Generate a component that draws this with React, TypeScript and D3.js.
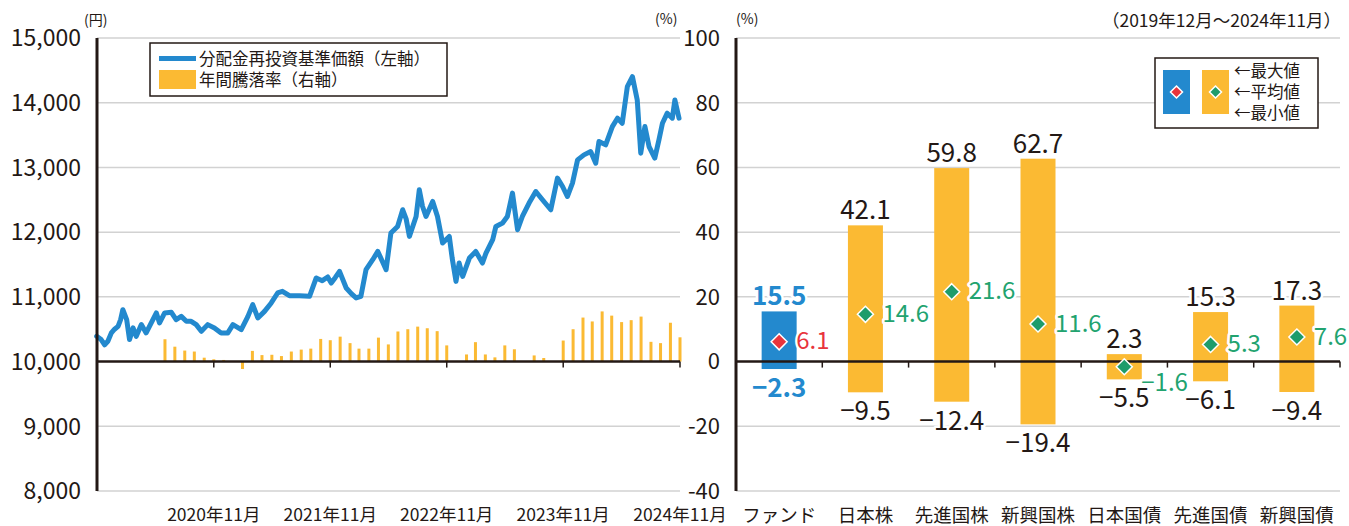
import React from "react";
import * as d3 from "d3";

// ---------- Left chart data ----------
const navDates: string[] = [
  "2019-11-29", "2019-12-13", "2019-12-24", "2020-01-03", "2020-01-14", "2020-01-24", "2020-02-04",
  "2020-02-12", "2020-02-19", "2020-03-02", "2020-03-11", "2020-03-22", "2020-04-01", "2020-04-17",
  "2020-05-02", "2020-05-18", "2020-06-03", "2020-06-13", "2020-06-29", "2020-07-20", "2020-08-04",
  "2020-08-20", "2020-09-05", "2020-09-20", "2020-10-06", "2020-10-22", "2020-11-11", "2020-12-02",
  "2020-12-23", "2021-01-13", "2021-01-29", "2021-02-24", "2021-03-17", "2021-04-01", "2021-04-17",
  "2021-05-08", "2021-05-29", "2021-06-18", "2021-07-03", "2021-07-25", "2021-08-25", "2021-09-26",
  "2021-10-17", "2021-11-05", "2021-11-22", "2021-12-03", "2021-12-16", "2021-12-29", "2022-01-19",
  "2022-02-04", "2022-02-19", "2022-03-06", "2022-03-22", "2022-04-12", "2022-04-28", "2022-05-12",
  "2022-05-24", "2022-06-08", "2022-06-29", "2022-07-15", "2022-07-26", "2022-08-05", "2022-08-26",
  "2022-09-05", "2022-09-15", "2022-09-26", "2022-10-17", "2022-11-01", "2022-11-17", "2022-12-08",
  "2022-12-17", "2022-12-29", "2023-01-08", "2023-01-19", "2023-02-09", "2023-03-01", "2023-03-22",
  "2023-04-02", "2023-04-23", "2023-05-03", "2023-05-24", "2023-06-08", "2023-06-24", "2023-07-10",
  "2023-07-25", "2023-08-15", "2023-09-05", "2023-09-26", "2023-10-22", "2023-11-12", "2023-11-28",
  "2023-12-13", "2023-12-29", "2024-01-14", "2024-02-03", "2024-02-24", "2024-03-11", "2024-03-21",
  "2024-04-11", "2024-05-02", "2024-05-18", "2024-06-02", "2024-06-18", "2024-07-04", "2024-07-19",
  "2024-07-30", "2024-08-12", "2024-08-25", "2024-09-12", "2024-09-25", "2024-10-06", "2024-10-21",
  "2024-11-06", "2024-11-14", "2024-11-27",
];
const navValues: number[] = [
  10390, 10340, 10260, 10313, 10443, 10500, 10545,
  10650, 10802, 10648, 10340, 10520, 10390, 10571,
  10443, 10597, 10752, 10597, 10752, 10761, 10648,
  10699, 10622, 10622, 10571, 10468, 10571, 10520,
  10443, 10443, 10571, 10494, 10699, 10880, 10674,
  10776, 10906, 11060, 11085, 11018, 11018, 11008,
  11292, 11250, 11307, 11214, 11300, 11393, 11137,
  11050, 10983, 11008, 11420, 11574, 11702, 11550,
  11420, 11986, 12088, 12346, 12200, 11934, 12242,
  12654, 12400, 12242, 12474, 12242, 11832, 11934,
  11600, 11239, 11523, 11316, 11600, 11702, 11523,
  11677, 11883, 12088, 12140, 12242, 12603, 12037,
  12242, 12449, 12628, 12500, 12346, 12835, 12706,
  12551, 12758, 13117, 13194, 13245, 13066, 13400,
  13349, 13631, 13761, 13683, 14248, 14403, 14043,
  13220, 13631, 13323, 13144, 13426, 13683, 13838,
  13761, 14043, 13761,
];

// annual returns (%), monthly from 2020-06 to 2024-11
const returnStart = { year: 2020, month: 6 };
const annualReturns: number[] = [
  6.9, 4.6, 3.4, 3.1, 1.2, 0.7, 0.5,
  0.0, -2.3, 3.3, 2.0, 2.1, 1.7, 3.1, 3.7, 4.0, 7.0, 6.6, 7.7,
  5.7, 4.0, 4.0, 7.4, 5.3, 9.3, 10.0, 10.8, 10.3, 9.4, 5.0, 0.2,
  2.2, 6.0, 2.2, 1.3, 5.0, 3.8, 0.0, 1.9, 1.1, 0.0, 6.5, 10.0,
  13.6, 12.4, 15.5, 14.2, 12.2, 12.8, 13.9, 6.1, 5.7, 12.0, 7.5,
];

const yearTickDates = ["2020-11-30", "2021-11-30", "2022-11-30", "2023-11-30", "2024-11-30"];
const yearTickLabels = ["2020年11月", "2021年11月", "2022年11月", "2023年11月", "2024年11月"];
const navTicks = [8000, 9000, 10000, 11000, 12000, 13000, 14000, 15000];
const pctTicks = [-40, -20, 0, 20, 40, 60, 80, 100];

// ---------- Right chart data ----------
const categories = ["ファンド", "日本株", "先進国株", "新興国株", "日本国債", "先進国債", "新興国債"];
const maxValues = [15.5, 42.1, 59.8, 62.7, 2.3, 15.3, 17.3];
const avgValues = [6.1, 14.6, 21.6, 11.6, -1.6, 5.3, 7.6];
const minValues = [-2.3, -9.5, -12.4, -19.4, -5.5, -6.1, -9.4];

// ---------- Styles ----------
const BLUE = "#2389CE";
const YELLOW = "#FBBA33";
const RED = "#E8343C";
const GREEN = "#1E9C6B";
const GREEN_TXT = "#22A36F";
const INK = "#231815";
const GRID = "#D2D2D2";
const FONT = "'Noto Sans CJK JP', 'Noto Sans', sans-serif";

const W = 1349;
const H = 526;

export default function App() {
  const parse = d3.timeParse("%Y-%m-%d");
  const x = d3
    .scaleTime()
    .domain([new Date(2019, 10, 30), new Date(2024, 10, 30)])
    .range([97, 680]);
  const yNav = d3.scaleLinear().domain([8000, 15000]).range([491, 38]);
  const yPct = d3.scaleLinear().domain([-40, 100]).range([491, 38]);

  const navPts = navDates.map((d, i) => ({ d: parse(d) as Date, v: navValues[i] }));
  const line = d3
    .line<{ d: Date; v: number }>()
    .x((p) => x(p.d))
    .y((p) => yNav(p.v));

  const bars = annualReturns.map((v, i) => ({
    d: new Date(returnStart.year, returnStart.month - 1 + i + 1, 0),
    v,
  }));

  const xb = d3.scaleBand<string>().domain(categories).range([736, 1340]);
  const bw = 35;
  const fmt = (v: number) => (v < 0 ? "−" + d3.format(".1f")(-v) : d3.format(".1f")(v));
  const diamond = (cx: number, cy: number, r: number) =>
    `M${cx},${cy - r}L${cx + r},${cy}L${cx},${cy + r}L${cx - r},${cy}Z`;

  const halo = { stroke: "#fff", strokeWidth: 5, paintOrder: "stroke" as const, strokeLinejoin: "round" as const };

  return (
    <svg
      width={W}
      height={H}
      style={{ position: "absolute", left: 0, top: 0, background: "#fff" }}
      fontFamily={FONT}
    >
      {/* ===== Left chart ===== */}
      {navTicks.map((t) =>
        t === 10000 ? null : (
          <line key={"lg" + t} x1={97} x2={680} y1={yNav(t)} y2={yNav(t)} stroke={GRID} strokeWidth={1.5} />
        )
      )}
      {navTicks.map((t) => (
        <text key={"ll" + t} x={81} y={yNav(t)} dy="0.36em" textAnchor="end" fontSize={23} fill={INK}>
          {d3.format(",")(t)}
        </text>
      ))}
      {pctTicks.map((t) => (
        <text key={"rl" + t} x={720} y={yPct(t)} dy="0.36em" textAnchor="end" fontSize={22} fill={INK}>
          {t}
        </text>
      ))}
      <text x={84} y={20} dy="0.36em" fontSize={14} fill={INK}>(円)</text>
      <text x={655} y={19} dy="0.36em" fontSize={14} fill={INK}>(%)</text>

      {/* bars */}
      {bars.map((b, i) =>
        b.v === 0 ? null : (
          <rect
            key={"b" + i}
            x={x(b.d) - 1.5}
            width={3}
            y={Math.min(yPct(b.v), yPct(0))}
            height={Math.abs(yPct(b.v) - yPct(0))}
            fill={YELLOW}
          />
        )
      )}

      {/* zero line & ticks */}
      <line x1={97} x2={680} y1={yPct(0)} y2={yPct(0)} stroke={INK} strokeWidth={2.5} />
      {yearTickDates.map((d, i) => {
        const xx = x(parse(d) as Date);
        return (
          <g key={"xt" + i}>
            <line x1={xx} x2={xx} y1={yPct(0)} y2={yPct(0) + 6} stroke={INK} strokeWidth={1.5} />
            <text x={xx} y={515} dy="0.36em" textAnchor="middle" fontSize={17.5} fill={INK}>
              {yearTickLabels[i]}
            </text>
          </g>
        );
      })}

      {/* NAV line */}
      <path d={line(navPts) || ""} fill="none" stroke={BLUE} strokeWidth={5} strokeLinejoin="round" strokeLinecap="round" />

      {/* left axis */}
      <line x1={97} x2={97} y1={38} y2={491} stroke={INK} strokeWidth={3} />

      {/* legend */}
      <rect x={150} y={43} width={297} height={53} fill="#fff" stroke={INK} strokeWidth={1.5} />
      <line x1={159} x2={196} y1={58.5} y2={58.5} stroke={BLUE} strokeWidth={5} />
      <text x={199} y={59} dy="0.36em" fontSize={16.5} fill={INK}>分配金再投資基準価額（左軸）</text>
      <rect x={159} y={70} width={37} height={19} fill={YELLOW} />
      <text x={199} y={80} dy="0.36em" fontSize={16.5} fill={INK}>年間騰落率（右軸）</text>

      {/* ===== Right chart ===== */}
      {pctTicks.map((t) =>
        t === 0 ? null : (
          <line key={"rg" + t} x1={736} x2={1340} y1={yPct(t)} y2={yPct(t)} stroke={GRID} strokeWidth={1.5} />
        )
      )}
      <text x={736} y={19} dy="0.36em" fontSize={14} fill={INK}>(%)</text>
      <text x={1341} y={21} dy="0.36em" textAnchor="end" fontSize={17.5} fill={INK}>
        （2019年12月～2024年11月）
      </text>

      {categories.map((c, i) => {
        const cx = (xb(c) as number) + xb.bandwidth() / 2;
        const isFund = i === 0;
        const top = yPct(maxValues[i]);
        const bot = yPct(minValues[i]);
        return (
          <rect key={"bar" + c} x={cx - bw / 2} width={bw} y={top} height={bot - top} fill={isFund ? BLUE : YELLOW} />
        );
      })}

      <line x1={736} x2={1340} y1={yPct(0)} y2={yPct(0)} stroke={INK} strokeWidth={2.5} />
      {categories.map((c, i) => {
        const xx = (xb(c) as number) + xb.bandwidth();
        return <line key={"rt" + i} x1={xx} x2={xx} y1={yPct(0)} y2={yPct(0) + 6} stroke={INK} strokeWidth={1.5} />;
      })}

      {categories.map((c, i) => {
        const cx = (xb(c) as number) + xb.bandwidth() / 2;
        const isFund = i === 0;
        const top = yPct(maxValues[i]);
        const bot = yPct(minValues[i]);
        const ay = yPct(avgValues[i]);
        const labelY = avgValues[i] < 0 ? ay + 16 : ay - 1;
        return (
          <g key={"lab" + c}>
            <path d={diamond(cx, ay, 8)} fill={isFund ? RED : GREEN} stroke="#fff" strokeWidth={1.5} />
            <text
              x={cx}
              y={top - 6}
              textAnchor="middle"
              fontSize={26}
              fontWeight={isFund ? 700 : 400}
              fill={isFund ? BLUE : INK}
              {...halo}
            >
              {fmt(maxValues[i])}
            </text>
            <text
              x={cx}
              y={bot + 28}
              textAnchor="middle"
              fontSize={26}
              fontWeight={isFund ? 700 : 400}
              fill={isFund ? BLUE : INK}
              {...halo}
            >
              {fmt(minValues[i])}
            </text>
            <text
              x={cx + 17}
              y={labelY}
              dy="0.36em"
              fontSize={24}
              fill={isFund ? RED : GREEN_TXT}
              {...halo}
            >
              {fmt(avgValues[i])}
            </text>
            <text x={cx} y={515} dy="0.36em" textAnchor="middle" fontSize={18.5} fill={INK}>
              {c}
            </text>
          </g>
        );
      })}

      {/* right axis line */}
      <line x1={736} x2={736} y1={38} y2={491} stroke={INK} strokeWidth={3} />

      {/* right legend */}
      <rect x={1155} y={58} width={163} height={70} fill="#fff" stroke={INK} strokeWidth={1.5} />
      <rect x={1163} y={70} width={27} height={44} fill={BLUE} />
      <rect x={1202} y={70} width={27} height={44} fill={YELLOW} />
      <path d={diamond(1176.5, 92, 6)} fill={RED} stroke="#fff" strokeWidth={1.5} />
      <path d={diamond(1215.5, 92, 6)} fill={GREEN} stroke="#fff" strokeWidth={1.5} />
      <text x={1234} y={71} dy="0.36em" fontSize={16.5} fill={INK}>←最大値</text>
      <text x={1234} y={92} dy="0.36em" fontSize={16.5} fill={INK}>←平均値</text>
      <text x={1234} y={113} dy="0.36em" fontSize={16.5} fill={INK}>←最小値</text>
    </svg>
  );
}
